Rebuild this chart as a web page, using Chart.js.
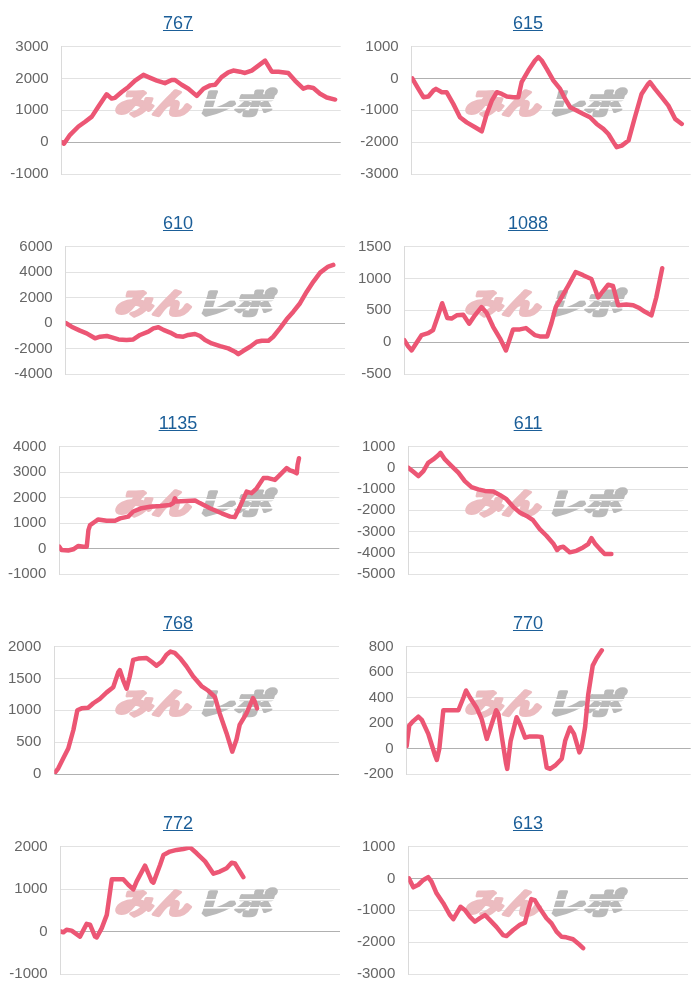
<!DOCTYPE html>
<html>
<head>
<meta charset="utf-8">
<script src="https://cdn.jsdelivr.net/npm/chart.js@4.4.1/dist/chart.umd.min.js"></script>
<style>
  html, body { margin: 0; padding: 0; background: #fff; }
  #wrap { position: relative; width: 700px; height: 1000px; overflow: hidden; }
  .cell { position: absolute; width: 350px; height: 200px; }
  .cell a { position: absolute; left: 0; top: 13px; width: 356px; text-align: center;
    font: 18px/20px "Liberation Sans", Arial, sans-serif; color: #1b5e98; text-decoration: underline; }
  .cell canvas { position: absolute; left: 0; top: 0; width: 350px; height: 200px; }
</style>
</head>
<body>
<div id="wrap"></div>
<script>
// ---- titles (machine numbers) ----
const titles = ['767', '615', '610', '1088', '1135', '611', '768', '770', '772', '613'];

// ---- x = progress through the day (0-100), y = difference in medals ----
const x767 = [0,0.8,3.0,6.0,8.4,10.8,13.1,16.1,17.9,19.1,21.5,23.9,26.3,29.3,31.1,34.1,37.0,39.4,40.6,43.0,45.4,48.4,50.8,53.2,55.0,57.3,59.7,61.5,63.9,65.7,68.1,70.5,72.9,75.3,77.7,81.2,83.6,86.6,88.4,90.2,92.6,95.0,98.0];
const y767 = [0,-50,230,490,640,800,1110,1500,1365,1390,1570,1730,1930,2110,2040,1930,1850,1950,1950,1800,1675,1450,1675,1780,1800,2040,2190,2245,2210,2170,2245,2400,2555,2210,2210,2170,1930,1675,1730,1700,1520,1400,1335];

const x615 = [0.2,2.4,4.2,6.0,7.8,8.7,10.8,12.5,14.9,17.3,19.7,22.7,25.1,26.9,28.7,30.5,32.3,34.1,36.4,38.2,39.4,41.8,44.2,45.4,46.6,48.4,50.8,53.2,55.0,56.8,59.1,61.5,63.9,66.3,68.7,70.5,72.3,73.5,75.3,77.7,80.0,82.4,84.8,85.4,87.2,89.6,92.0,94.4,96.8];
const y615 = [0,-330,-590,-570,-380,-330,-435,-435,-800,-1220,-1380,-1535,-1660,-1115,-700,-435,-490,-570,-590,-590,-120,245,560,665,560,300,-70,-330,-645,-905,-1010,-1115,-1220,-1430,-1585,-1745,-2000,-2160,-2110,-1950,-1220,-490,-170,-120,-330,-590,-855,-1270,-1430];

const x610 = [0,2.1,5.1,7.5,10.5,12.3,14.7,16.5,18.9,21.8,24.2,26.6,29.6,31.4,33.2,35.0,37.4,39.7,42.1,43.9,46.3,48.1,49.9,52.3,55.3,58.2,60.6,61.8,63.6,66.0,68.4,70.2,72.6,74.3,76.7,79.1,81.5,83.9,86.3,88.7,91.1,94.0,95.8];
const y610 = [0,-290,-600,-810,-1200,-1070,-1020,-1130,-1290,-1340,-1290,-940,-680,-420,-330,-540,-750,-1020,-1070,-940,-860,-1020,-1340,-1600,-1810,-1990,-2250,-2440,-2180,-1860,-1470,-1390,-1390,-1080,-420,290,890,1550,2460,3250,3950,4430,4560];

const x1088 = [0,1.4,2.6,4.3,6.1,8.4,10.1,11.9,13.3,15.1,16.6,18.4,20.7,22.8,24.8,27.1,28.9,31.2,33.6,35.7,38.2,40.6,42.7,45.8,47.6,50.2,51.7,53.2,55.2,57.5,60.2,62.8,65.7,68.1,69.8,71.6,73.3,75.1,78.0,80.4,82.7,84.4,86.8,88.5,90.6];
const y1088 = [30,-70,-130,-10,110,140,190,420,610,380,370,420,430,290,420,550,460,240,60,-130,200,200,220,110,90,90,300,550,700,880,1100,1050,990,700,800,900,880,580,590,580,530,480,420,700,1160];

const x1135 = [0,0.8,3.2,5.0,6.8,8.6,9.8,10.4,11.0,12.7,13.9,16.9,19.9,21.7,24.6,26.4,29.4,32.4,36.0,39.5,40.7,41.3,41.9,48.5,50.2,53.8,58.0,61.0,62.7,64.5,66.9,68.7,70.5,72.9,74.6,77.0,78.8,81.2,82.4,83.6,84.8,85.1,85.6];
const y1135 = [70,-60,-80,-30,100,70,70,720,920,1050,1140,1090,1090,1180,1250,1450,1580,1640,1670,1710,1780,1970,1840,1880,1780,1580,1380,1250,1230,1640,2230,2170,2360,2760,2760,2690,2890,3150,3060,3020,2950,3280,3540];

const x611 = [0,1.8,3.6,5.4,7.1,8.9,10.7,11.5,13.1,15.5,17.9,20.2,22.6,25.0,27.4,30.4,32.7,35.1,37.5,39.9,42.3,44.6,47.0,49.4,51.8,53.2,54.2,55.4,57.7,60.1,62.5,64.3,65.5,66.7,68.5,70.2,72.6];
const y611 = [0,-190,-390,-160,230,390,590,700,390,80,-230,-630,-910,-1020,-1090,-1120,-1280,-1480,-1840,-2110,-2270,-2470,-2890,-3200,-3560,-3870,-3750,-3720,-3980,-3910,-3750,-3590,-3310,-3560,-3830,-4060,-4060];

const x768 = [0.2,1.4,3.2,4.9,6.7,8.1,9.6,11.9,13.7,16.0,18.4,20.7,22.5,23.0,24.2,25.4,26.5,27.7,29.5,32.4,34.2,35.9,37.7,39.4,40.8,42.3,44.1,46.4,48.8,51.7,54.0,56.4,58.1,60.5,62.5,64.0,65.1,67.5,69.8,70.4,71.2];
const y768 = [20,90,250,400,690,1000,1030,1040,1110,1180,1280,1360,1600,1630,1470,1340,1530,1790,1810,1820,1760,1700,1760,1870,1920,1900,1820,1690,1530,1380,1310,1210,950,640,350,540,770,950,1190,1140,1030];

const x770 = [0,0.2,0.9,2.3,4.1,5.3,7.6,10.0,10.6,11.5,12.9,14.7,18.2,20.0,20.9,22.3,24.6,26.4,28.2,29.9,31.5,32.3,33.5,35.0,35.4,36.6,38.7,39.9,41.7,43.4,45.8,47.5,49.3,50.5,52.2,54.6,55.8,57.5,58.9,60.8,61.6,62.8,63.9,65.5,66.9,68.7];
const y770 = [20,60,180,215,250,225,115,-55,-90,0,300,300,300,400,455,400,320,230,75,190,300,270,90,-120,-160,60,245,190,85,95,95,90,-150,-160,-135,-80,60,165,115,-30,10,165,420,650,710,770];

const x772 = [0,1.0,2.1,3.9,6.9,9.3,10.5,12.3,12.9,14.7,16.5,18.3,22.4,24.2,26.0,27.2,30.2,32.6,33.2,35.6,36.8,39.1,41.5,43.9,46.3,48.7,51.7,54.7,57.0,59.4,61.2,62.4,65.4];
const y772 = [0,-20,40,20,-120,180,160,-120,-140,80,390,1230,1230,1100,990,1180,1550,1180,1150,1570,1800,1880,1920,1940,1980,1840,1650,1360,1410,1490,1620,1600,1280];

const x613 = [0.2,1.8,3.6,5.4,7.1,8.3,10.1,12.5,14.9,16.1,17.3,18.7,20.2,22.0,23.8,25.6,27.4,29.2,31.5,33.9,35.1,37.5,39.9,41.7,42.9,44.0,45.2,47.0,49.4,51.2,53.0,54.8,56.5,58.9,60.7,62.5];
const y613 = [0,-280,-200,-50,40,-100,-470,-780,-1150,-1280,-1100,-890,-990,-1200,-1360,-1250,-1150,-1310,-1520,-1780,-1810,-1620,-1460,-1390,-990,-650,-680,-940,-1250,-1410,-1670,-1830,-1850,-1910,-2040,-2190];

// ---- y-axis tick ranges ----
const yMin  = [-1000, -3000, -4000, -500, -1000, -5000,    0, -200, -1000, -3000];
const yMax  = [ 3000,  1000,  6000, 1500,  4000,  1000, 2000,  800,  2000,  1000];
const yStep = [ 1000,  1000,  2000,  500,  1000,  1000,  500,  200,  1000,  1000];

const seriesX = [x767, x615, x610, x1088, x1135, x611, x768, x770, x772, x613];
const seriesY = [y767, y615, y610, y1088, y1135, y611, y768, y770, y772, y613];

// ---- layout (pixels, per cell) ----
const plotLeft  = [61.7, 61.7, 65.7, 54.3, 59.3, 58.3, 54.3, 56.7, 60.7, 58.3];
const plotRight = [340.7, 340.7, 345, 339, 339.3, 338, 339, 340.7, 340, 338];

const watermark = {
  id: 'watermark',
  beforeDatasetsDraw(chart) {
    const ctx = chart.ctx;
    ctx.save();
    ctx.translate(114, 114);
    ctx.transform(1.3, 0, -0.3, 1, 0, 0);
    ctx.font = 'bold 29px "Noto Sans CJK JP"';
    ctx.textBaseline = 'alphabetic';
    ctx.lineJoin = 'round';
    ctx.lineWidth = 3.2;
    ctx.fillStyle = ctx.strokeStyle = '#ecbcc0';
    ctx.strokeText('みん', 0, 0);
    ctx.fillText('みん', 0, 0);
    ctx.fillStyle = ctx.strokeStyle = '#bababa';
    ctx.strokeText('レポ', 63, 0);
    ctx.fillText('レポ', 63, 0);
    ctx.restore();
    // speed-line cuts through the grey half of the logo
    ctx.save();
    ctx.fillStyle = '#ffffff';
    ctx.fillRect(198, 99, 82, 1.6);
    ctx.fillRect(196, 107, 84, 1.6);
    ctx.restore();
  }
};

const wrap = document.getElementById('wrap');
titles.forEach((t, i) => {
  const cell = document.createElement('div');
  cell.className = 'cell';
  cell.style.left = (i % 2) * 350 + 'px';
  cell.style.top = Math.floor(i / 2) * 200 + 'px';
  const cv = document.createElement('canvas');
  cv.width = 350; cv.height = 200;
  cell.appendChild(cv);
  const a = document.createElement('a');
  a.href = '#';
  a.textContent = t;
  cell.appendChild(a);
  wrap.appendChild(cell);

  const L = plotLeft[i];
  new Chart(cv, {
    type: 'line',
    data: {
      datasets: [{
        data: seriesX[i].map((x, j) => ({ x: x, y: seriesY[i][j] })),
        borderColor: 'rgb(236,86,116)',
        borderWidth: 4.5,
        pointRadius: 0,
        tension: 0,
        fill: false,
        borderJoinStyle: 'round',
        borderCapStyle: 'round'
      }]
    },
    options: {
      responsive: false,
      animation: false,
      devicePixelRatio: 1,
      layout: { padding: { top: 46.5, bottom: 26, left: 0, right: 350 - plotRight[i] } },
      plugins: { legend: { display: false }, tooltip: { enabled: false }, title: { display: false } },
      scales: {
        x: { type: 'linear', min: 0, max: 100, display: false },
        y: {
          min: yMin[i], max: yMax[i],
          ticks: {
            stepSize: yStep[i],
            callback: v => String(v),
            font: { family: '"Liberation Sans", Arial, sans-serif', size: 15 },
            color: '#666',
            padding: 13
          },
          grid: {
            drawTicks: false,
            color: c => (c.tick && c.tick.value === 0) ? '#b0b0b0' : '#e2e2e2',
            lineWidth: 1
          },
          border: { display: true, color: '#dadada' },
          afterFit: s => { s.width = L; }
        }
      }
    },
    plugins: [watermark]
  });
});
</script>
</body>
</html>
